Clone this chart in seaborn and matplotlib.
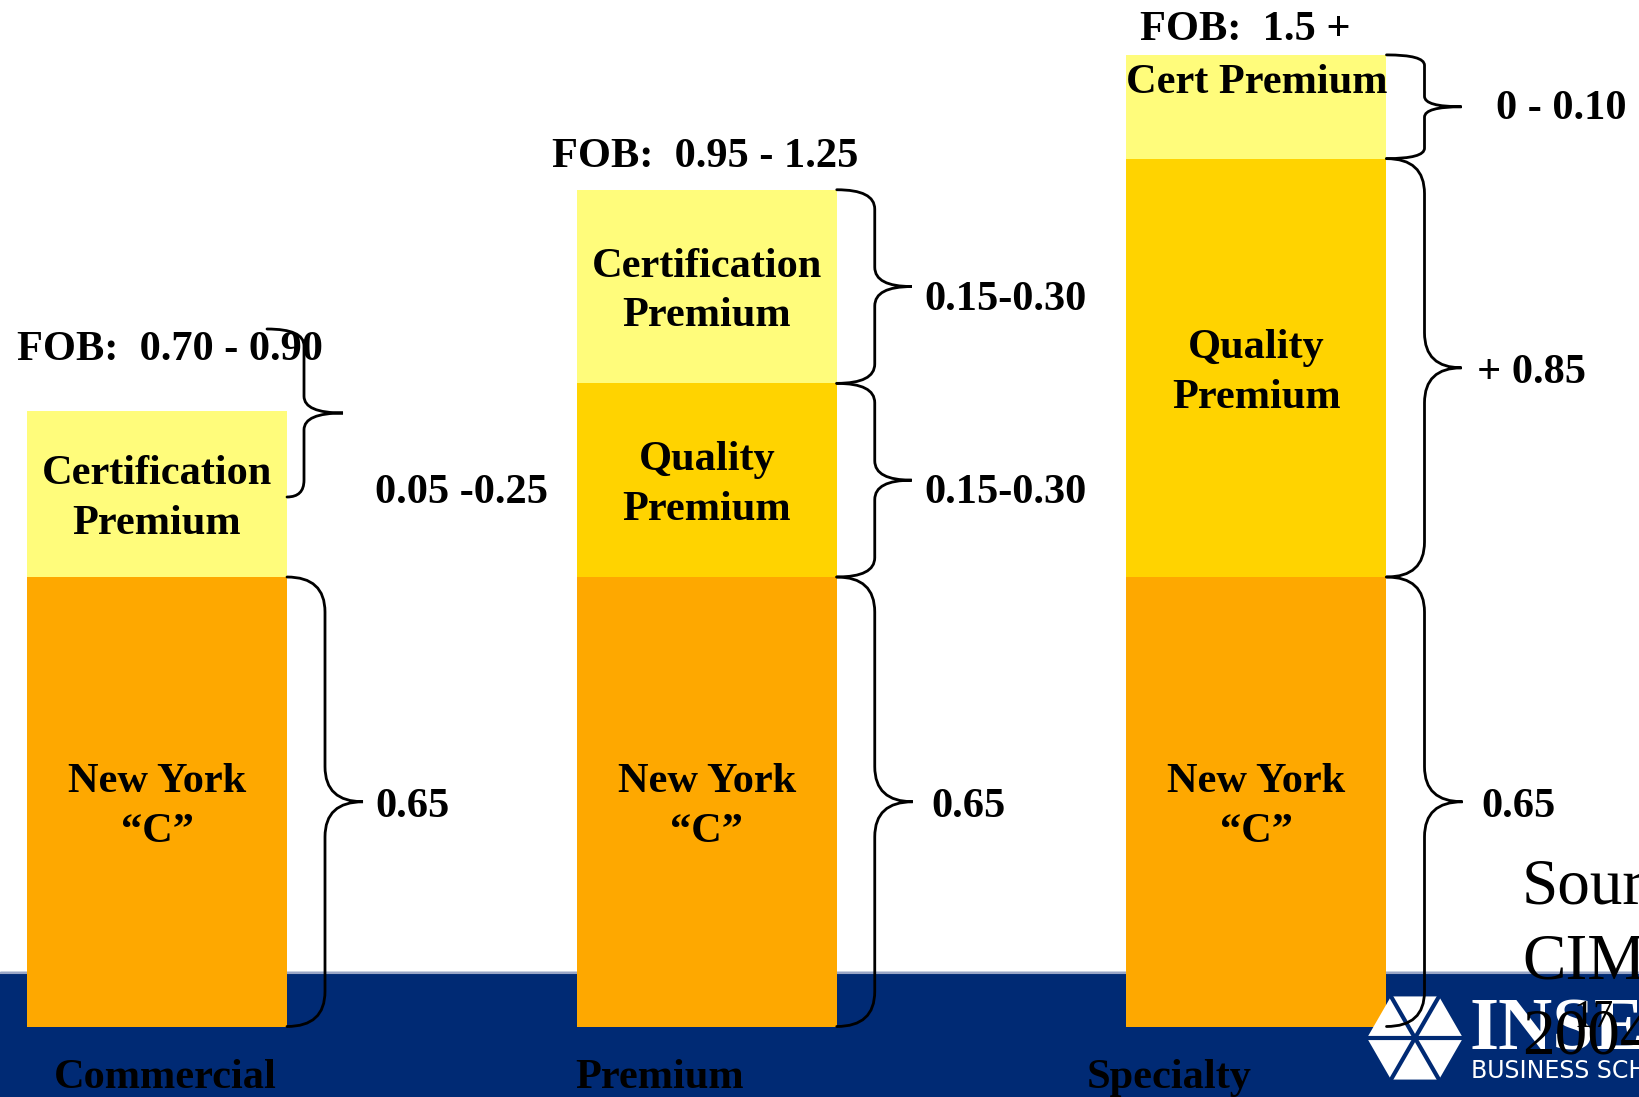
import numpy as np
import pandas as pd
import matplotlib
matplotlib.use("Agg")
import matplotlib.pyplot as plt
import seaborn as sns
from matplotlib.path import Path
from matplotlib.patches import PathPatch, Polygon

# data
categories = ["Commercial", "Premium", "Specialty"]
ny_c = [0.65, 0.65, 0.65]
quality_premium = [0.0, 0.28, 0.605]
cert_premium = [0.24, 0.28, 0.15]
fob_labels = ["FOB:  0.70 - 0.90", "FOB:  0.95 - 1.25", "FOB:  1.5 +"]
ny_labels = ["0.65", "0.65", "0.65"]
quality_labels = [None, "0.15-0.30", "+ 0.85"]
cert_labels = ["0.05 -0.25", "0.15-0.30", "0 - 0.10"]
cert_names = ["Certification\nPremium", "Certification\nPremium", "Cert Premium"]

c_orange = "#FEA800"
c_quality = "#FFD300"
c_cert = "#FFFC7B"
c_band = "#002A74"

plt.rcParams["font.family"] = ["Liberation Serif", "DejaVu Serif"]

fig = plt.figure(figsize=(16.4, 10.97), dpi=100)
ax = fig.add_axes([0, 0, 1, 1])

# picture scale helpers (1 category step = 549.75 px, 0.65 = 449.5 px)
ux = 1 / 549.75
k = 0.65 / 449.5
def yv(row):
    return (1026.5 - row) * k
def xv(col):
    return (col - 157) * ux

df = pd.DataFrame({"cat": categories, "base": ny_c,
                   "quality": quality_premium, "cert": cert_premium})
df["mid"] = df["base"] + df["quality"]
df["top"] = df["mid"] + df["cert"]

bw = 260 / 549.75
sns.barplot(data=df, x="cat", y="top", color=c_cert, width=bw, saturation=1,
            linewidth=0, errorbar=None, ax=ax, zorder=3)
sns.barplot(data=df, x="cat", y="mid", color=c_quality, width=bw, saturation=1,
            linewidth=0, errorbar=None, ax=ax, zorder=3)
sns.barplot(data=df, x="cat", y="base", color=c_orange, width=bw, saturation=1,
            linewidth=0, errorbar=None, ax=ax, zorder=3)

ax.set_xlim(xv(0), xv(1640))
ax.set_ylim(yv(1097), yv(0))
ax.axis("off")

# blue band at the bottom
ax.axhspan(yv(1097), yv(972), color=c_band, zorder=1)
ax.axhline(yv(972.5), color="#9AA6C6", lw=1.5, zorder=1.5)


def brace(x_edge, y_top, y_bot, arm, tip, x_start=None):
    xvv = x_edge + arm * ux
    xt = x_edge + tip * ux
    xs = x_edge if x_start is None else x_start
    r = min(35, (y_top - y_bot) / k * 0.1) * k
    ym = (y_top + y_bot) / 2
    verts = [(xs, y_top), (xvv, y_top), (xvv, y_top - r),
             (xvv, ym + r), (xvv, ym), (xt, ym),
             (xvv, ym), (xvv, ym - r),
             (xvv, y_bot + r), (xvv, y_bot), (x_edge, y_bot)]
    codes = [Path.MOVETO, Path.CURVE3, Path.CURVE3, Path.LINETO,
             Path.CURVE3, Path.CURVE3, Path.CURVE3, Path.CURVE3,
             Path.LINETO, Path.CURVE3, Path.CURVE3]
    ax.add_patch(PathPatch(Path(verts, codes), fill=False, lw=2,
                           ec="black", zorder=5, capstyle="round"))
    return xt, ym


bold = dict(fontsize=30.5, fontweight="bold", color="black", zorder=6)
dy = 5 * k  # text sits a little below the brace tips
fob_pos = [(xv(170), yv(350)), (xv(705), yv(157)), (xv(1245), yv(30))]
label_dx = [88, 95, 95]

for i, cat in enumerate(categories):
    edge = i + bw / 2
    base, mid, top = df.loc[i, "base"], df.loc[i, "mid"], df.loc[i, "top"]

    # inside labels
    ax.text(i, base / 2 - dy, "New York\n\u201cC\u201d", ha="center", va="center",
            linespacing=1.4, **bold)
    if quality_premium[i] > 0:
        ax.text(i, (base + mid) / 2 - dy, "Quality\nPremium", ha="center",
                va="center", linespacing=1.4, **bold)
    if i < 2:
        ax.text(i, (mid + top) / 2 - dy, cert_names[i], ha="center", va="center",
                linespacing=1.4, **bold)
    else:
        ax.text(i, top - 28 * k, cert_names[i], ha="center", va="center", **bold)

    ax.text(*fob_pos[i], fob_labels[i], ha="center", va="center", **bold)

    # braces and range labels
    _, ym = brace(edge, base, 0, 38, 76)
    ax.text(edge + label_dx[i] * ux, ym - dy, ny_labels[i], ha="left",
            va="center", **bold)
    if quality_premium[i] > 0:
        _, ym = brace(edge, mid, base, 38, 75)
        ax.text(edge + (88 if i == 1 else 91) * ux, ym - dy - (8 * k if i == 1 else 0),
                quality_labels[i], ha="left", va="center", **bold)
    if i > 0:
        _, ym = brace(edge, top, mid, 38, 75)
        ax.text(edge + (88 if i == 1 else 110) * ux, ym - (dy + 8 * k if i == 1 else 2 * k),
                cert_labels[i], ha="left", va="center", **bold)

# commercial certification brace sits above its bar
brace(0 + bw / 2, yv(329), yv(497), 17, 56, x_start=xv(267))
ax.text(xv(375), yv(493), cert_labels[0], ha="left", va="center", **bold)

# category names on the band
name_x = [165, 660, 1169]
for i, cat in enumerate(categories):
    ax.text(xv(name_x[i]), yv(1088), cat, ha="center", va="baseline",
            fontsize=30.5, fontweight="bold", color="black", zorder=6)

# INSEAD logo
cx, cy, R = 1415, 1038, 48
ang = np.deg2rad(np.arange(0, 360, 60))
hx = [xv(cx + R * np.cos(a)) for a in ang]
hy = [yv(cy + R * np.sin(a)) for a in ang]
ax.add_patch(Polygon(list(zip(hx, hy)), closed=True, fc="white", ec="none", zorder=4))
for j in range(3):
    ax.plot([hx[j], hx[j + 3]], [hy[j], hy[j + 3]], color=c_band, lw=3, zorder=4.5)
ax.text(xv(1470), yv(1050), "INSEAD", color="white", fontsize=54,
        fontweight="bold", ha="left", va="baseline", zorder=4)
ax.text(xv(1471), yv(1078), "BUSINESS SCHOOL", color="white", fontsize=17,
        family="DejaVu Sans", ha="left", va="baseline", zorder=4)

# slide number and source
ax.text(xv(1574), yv(1027), "17", fontsize=29, color="black", ha="left",
        va="baseline", zorder=6)
ax.text(xv(1522), yv(1053), "Source:\nCIMS\n2004", fontsize=47, color="black",
        ha="left", va="baseline", linespacing=1.33, zorder=7)

fig.savefig("out.png", dpi=100)
